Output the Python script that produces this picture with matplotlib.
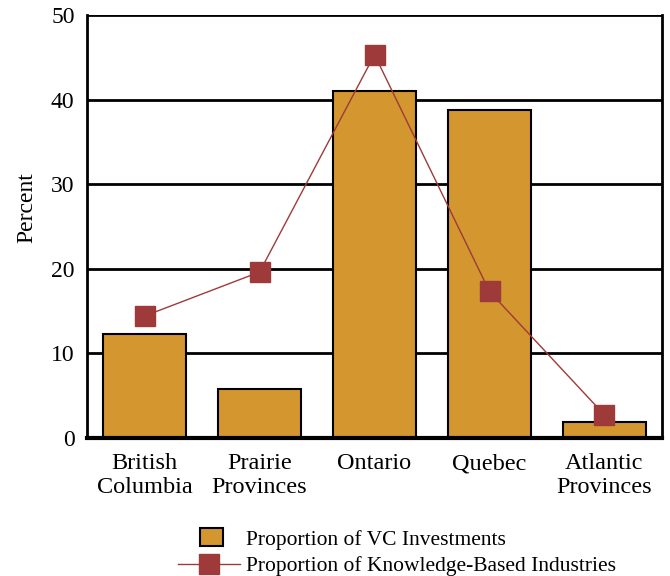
import matplotlib
matplotlib.use('Agg')
import matplotlib.pyplot as plt
import matplotlib.patches as mpatches
from matplotlib.legend_handler import HandlerPatch
import numpy as np

# Data
regions = ['British\nColumbia', 'Prairie\nProvinces', 'Ontario', 'Quebec', 'Atlantic\nProvinces']
vc_investments = [12.3, 5.8, 41.0, 38.8, 1.9]
knowledge_industries = [14.4, 19.6, 45.3, 17.3, 2.7]

bar_color = '#d4962f'
line_color = '#9e3a3a'

plt.rcParams['font.family'] = ['Liberation Serif', 'DejaVu Serif']

fig = plt.figure(figsize=(6.7, 5.76), dpi=100)
ax = fig.add_axes([0.130, 0.240, 0.858, 0.734])

x = np.arange(len(regions))
ax.set_axisbelow(True)
ax.yaxis.grid(True, color='black', linewidth=2)
bars = ax.bar(x, vc_investments, 0.72, color=bar_color, edgecolor='black',
              linewidth=1.5, zorder=2)
line, = ax.plot(x, knowledge_industries, color=line_color, linewidth=1,
                marker='s', markersize=14, markeredgecolor=line_color,
                label='Proportion of Knowledge-Based Industries', zorder=3)

ax.set_xlim(-0.5, 4.5)
ax.set_ylim(0, 50)
ax.set_yticks([0, 10, 20, 30, 40, 50])
ax.set_xticks(x)
ax.set_xticklabels(regions, fontsize=17.5, linespacing=1.2)
ax.tick_params(axis='y', labelsize=17, length=0, pad=9)
ax.tick_params(axis='x', length=0, pad=11)
ax.set_ylabel('Percent', fontsize=17)
ax.yaxis.set_label_coords(-0.086, 0.545)

for side in ['left', 'bottom', 'right']:
    ax.spines[side].set_linewidth(2)
ax.spines['top'].set_visible(False)
ax.spines['bottom'].set_linewidth(3)


# small box handle for the bar series
def small_box(legend, orig_handle, xdescent, ydescent, width, height, fontsize):
    return mpatches.Rectangle((-xdescent + width * 0.345, -ydescent - 1), width * 0.38, height + 2)


box = mpatches.Patch(facecolor=bar_color, edgecolor='black', linewidth=1.5,
                     label='Proportion of VC Investments')

fig.legend(handles=[box, line], loc='lower center', bbox_to_anchor=(0.593, -0.034),
           frameon=False, fontsize=15.5, handlelength=2.85, labelspacing=0.3,
           handletextpad=0.3,
           handler_map={mpatches.Patch: HandlerPatch(patch_func=small_box)})

fig.savefig('out.png', dpi=100)
